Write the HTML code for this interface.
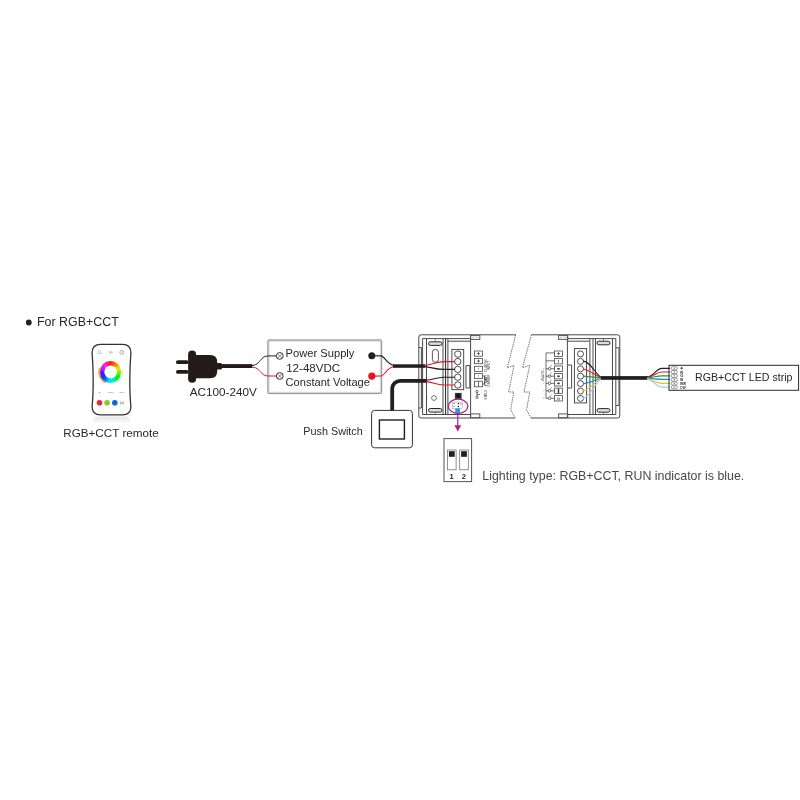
<!DOCTYPE html>
<html><head><meta charset="utf-8">
<style>
html,body{margin:0;padding:0;background:#fff;width:800px;height:800px;overflow:hidden}
svg{display:block}
text{font-family:"Liberation Sans",sans-serif;fill:#2a2626}
</style></head><body>
<svg width="800" height="800" viewBox="0 0 800 800" style="will-change:transform">
<rect width="800" height="800" fill="#fff"/>
<defs>
<linearGradient id="refl" x1="0" y1="0" x2="0" y2="1">
<stop offset="0" stop-color="#e2e2e2"/><stop offset="1" stop-color="#fff"/>
</linearGradient>
</defs>

<!-- ===== Header ===== -->
<circle cx="28.8" cy="322.5" r="2.9" fill="#231f20"/>
<text x="37" y="325.8" font-size="12" textLength="81.8" lengthAdjust="spacingAndGlyphs">For RGB+CCT</text>

<!-- ===== Remote ===== -->
<g id="remote">
<path d="M99,416.5 L124,416.5 Q130,416.5 130.5,421 L130.5,424 L92.5,424 L92.5,421 Q93,416.5 99,416.5 Z" fill="url(#refl)" opacity="0.9"/>
<path d="M100.5,344.3 L122.5,344.3 Q130.9,344.3 130.9,353 Q129.8,366 129.8,380 Q129.8,396 130.9,406.5 Q130.9,414.9 122.5,414.9 L100.5,414.9 Q92.1,414.9 92.1,406.5 Q93.2,396 93.2,380 Q93.2,366 92.1,353 Q92.1,344.3 100.5,344.3 Z" fill="#fff" stroke="#333" stroke-width="1.3"/>
<path d="M98,353.5 L98,351.5 L99.5,350.3 L101,351.5 L101,353.5 Z" fill="none" stroke="#aaa" stroke-width="0.6"/>
<path d="M109,350.8 L112.5,352.4 L109,354 M109,352.4 L111.5,352.4" fill="none" stroke="#aaa" stroke-width="0.6"/>
<circle cx="121.8" cy="352.4" r="2" fill="none" stroke="#999" stroke-width="0.7"/>
<circle cx="121.8" cy="352.4" r="0.9" fill="none" stroke="#bbb" stroke-width="0.5"/>
<path d="M99.80,367.93 A11.6,11.6 0 0 0 105.80,382.41" fill="none" stroke="#f6a04c" stroke-width="1.9"/>
<path d="M122.10,368.85 A11.8,11.8 0 0 1 115.69,382.59" fill="none" stroke="#d2e8fb" stroke-width="1.4"/>
<foreignObject x="99.9" y="361.1" width="21.6" height="21.6">
<div style="width:21.6px;height:21.6px;border-radius:50%;background:conic-gradient(#ff1e00 0deg,#ff8000 35deg,#f8e800 65deg,#80f000 95deg,#00f000 125deg,#00f0c0 160deg,#00e8ff 185deg,#0050ff 225deg,#4010f0 255deg,#a020f8 285deg,#ff20e0 320deg,#ff1e00 360deg)"></div>
</foreignObject>
<circle cx="110.7" cy="371.9" r="6.4" fill="#fff"/>
<circle cx="99.5" cy="392.5" r="0.8" fill="#aaa"/>
<rect x="108" y="392" width="5.5" height="1" fill="#ccc"/>
<rect x="119.5" y="392" width="5" height="1" fill="#ccc"/>
<circle cx="99.5" cy="402.7" r="2.8" fill="#ee2233"/>
<circle cx="107.1" cy="402.7" r="2.8" fill="#80d024"/>
<circle cx="114.8" cy="402.7" r="2.8" fill="#1166d6"/>
<path d="M120.8,401.2 L120.8,404.5 M123.2,401.2 L123.2,404.5 M120.8,403.3 L123.2,403.3" stroke="#777" stroke-width="0.6"/>
</g>
<text x="63.2" y="437.2" font-size="11.6" textLength="95.6" lengthAdjust="spacingAndGlyphs">RGB+CCT remote</text>

<!-- ===== Plug ===== -->
<g fill="#231b1b">
<rect x="176" y="360.3" width="12.5" height="3.8" rx="1.9"/>
<rect x="176" y="370" width="12.5" height="3.8" rx="1.9"/>
<rect x="188.1" y="350.5" width="8" height="32.3" rx="4"/>
<path d="M195,355 L210,355 Q217.2,355 217.2,362 L217.2,371.3 Q217.2,378.3 210,378.3 L195,378.3 Z"/>
<rect x="216" y="362.9" width="6" height="6.7" rx="1.5"/>
<rect x="221" y="364.1" width="31.2" height="3.9"/>
</g>
<text x="189.8" y="395.6" font-size="11" textLength="67" lengthAdjust="spacingAndGlyphs">AC100-240V</text>
<path d="M252,365.5 C258,365 259,361 262.5,358.3" fill="none" stroke="#231f20" stroke-width="1"/>
<path d="M252,367 C258,367.5 259,371 262.5,373.7" fill="none" stroke="#e8141c" stroke-width="1"/>

<!-- ===== Power supply ===== -->
<rect x="268.6" y="340.7" width="112.3" height="52.1" fill="#fff" stroke="#d6d6d6" stroke-width="2"/>
<rect x="267.8" y="339.9" width="113.9" height="53.7" rx="1.2" fill="none" stroke="#8a8a8a" stroke-width="0.9"/>
<path d="M262,358.5 C264,356.5 266,355.9 270,355.9 L276.5,355.9" fill="none" stroke="#231f20" stroke-width="1"/>
<path d="M262,373.5 C264,375.5 266,376 270,376 L276.5,376" fill="none" stroke="#e8141c" stroke-width="1"/>
<g fill="#fff" stroke="#231f20" stroke-width="0.9">
<circle cx="279.75" cy="355.9" r="3.4"/>
<circle cx="279.75" cy="376" r="3.4"/>
</g>
<path d="M277.6,353.75 L281.9,358.05 M281.9,353.75 L277.6,358.05 M277.6,373.85 L281.9,378.15 M281.9,373.85 L277.6,378.15" stroke="#555" stroke-width="0.7"/>
<text x="285.6" y="357" font-size="11" textLength="68.8" lengthAdjust="spacingAndGlyphs">Power Supply</text>
<text x="286.2" y="371.5" font-size="11" textLength="54" lengthAdjust="spacingAndGlyphs">12-48VDC</text>
<text x="285.6" y="385.5" font-size="11" textLength="84.3" lengthAdjust="spacingAndGlyphs">Constant Voltage</text>
<circle cx="371.8" cy="355.7" r="3.5" fill="#231f20"/>
<circle cx="371.8" cy="376.1" r="3.6" fill="#e8141c"/>
<path d="M372,355.7 L381,355.9 C385,356.5 387,364.5 393.5,365.2" fill="none" stroke="#231f20" stroke-width="1.1"/>
<path d="M372,376.1 L381,376 C385,375.5 387,367.5 393.5,366.8" fill="none" stroke="#e8141c" stroke-width="1.1"/>

<!-- ===== Push switch ===== -->
<rect x="371.6" y="410.4" width="40.8" height="37.4" rx="3" fill="#fff" stroke="#333" stroke-width="1"/>
<rect x="379.4" y="420" width="25" height="19" fill="#fff" stroke="#231f20" stroke-width="1.4"/>
<text x="303.3" y="434.8" font-size="11" textLength="59.5" lengthAdjust="spacingAndGlyphs">Push Switch</text>


<!-- ===== Controller left module ===== -->
<g fill="none" stroke="#4a4a4a" stroke-width="1">
<!-- outer frame -->
<path d="M515.7,334.8 L421,334.8 Q418.8,334.8 418.8,337 L418.8,416 Q418.8,418 421,418 L515,418"/>
<!-- inner frame -->
<path d="M470.6,338.6 L422.6,338.6 L422.6,414.5 L470.6,414.5"/>
<!-- left side tab -->
<path d="M418.8,347.5 L421.4,347.5 L421.4,408 L418.8,408"/>
<!-- right border -->
<path d="M470.6,334.8 L470.6,418"/>
<!-- mounting panel -->
<path d="M426.5,339 L426.5,414.5 M443,339 L443,414.5 M447.9,338.6 L447.9,414.5"/><path d="M445.6,338.6 L445.6,414.5" stroke="#222"/>
<path d="M447.8,341.2 L470.6,341.2"/>
<!-- top right tabs -->
<rect x="470.6" y="335.4" width="9.2" height="4" stroke="#555"/><path d="M472,337.6 L474.5,336.8 M475.5,336.8 L478,337.6" stroke="#888" stroke-width="0.6"/>
<rect x="470.6" y="413.9" width="9.2" height="3.8" stroke="#555"/>
<!-- right side tab -->
<path d="M466,365.5 L469.8,365.5 L469.8,388 L466,388 Z"/>
</g>
<!-- clips -->
<g fill="#ddd" stroke="#2a2a2a" stroke-width="1">
<rect x="428.5" y="341.8" width="13.5" height="3.6" rx="1.8"/>
<rect x="428.5" y="408.5" width="13.5" height="3.6" rx="1.8"/>
</g>
<path d="M435.2,339 L435.2,341.8 M435.2,412.1 L435.2,414.5" stroke="#555" stroke-width="0.7"/>
<!-- slot & hole -->
<rect x="432.4" y="349.3" width="6" height="13" rx="3" fill="none" stroke="#444" stroke-width="0.9"/>
<circle cx="434" cy="398" r="2.4" fill="none" stroke="#555" stroke-width="0.8"/>
<!-- terminal block -->
<rect x="451.9" y="349.4" width="11.8" height="40.3" fill="#fff" stroke="#3a3a3a" stroke-width="0.9"/>
<g fill="#fff" stroke="#3a3a3a" stroke-width="0.9">
<circle cx="457.8" cy="354.1" r="3.2"/>
<circle cx="457.8" cy="361.6" r="3.2"/>
<circle cx="457.8" cy="369.4" r="3.2"/>
<circle cx="457.8" cy="377.2" r="3.2"/>
<circle cx="457.8" cy="385" r="3.2"/>
</g>
<!-- cables to controller -->
<rect x="393" y="364.3" width="32" height="3.5" fill="#231f20"/>
<path d="M392.2,410.5 L392.2,388.8 A8,8 0 0 1 400.2,380.8 L426.8,380.8" fill="none" stroke="#231f20" stroke-width="3.8"/>

<!-- wires into terminal -->
<g fill="none" stroke-width="1.1">
<path d="M424.5,365.4 C432,365 436,361.6 444,361.6 L455,361.6" stroke="#e8141c"/>
<path d="M424.5,366.6 C431,367 435,369.4 443,369.4 L455,369.4" stroke="#231f20"/>
<path d="M426,380.2 C433,380 436,377.2 444,377.2 L455,377.2" stroke="#231f20"/>
<path d="M426,381.6 C433,382 436,385 444,385 L455,385" stroke="#e8141c"/>
</g>
<!-- button -->
<rect x="454.9" y="392.9" width="6.7" height="6" fill="#3a3434"/>
<circle cx="458.25" cy="395.9" r="2.1" fill="#1a1414"/>
<!-- dip tiny -->
<rect x="452.3" y="402.1" width="10.3" height="6.2" fill="#fff" stroke="#aaa" stroke-width="0.6"/>
<g fill="#222">
<circle cx="458.4" cy="403.5" r="0.75"/><circle cx="458.4" cy="406.4" r="0.75"/>
</g>
<g stroke="#555" stroke-width="0.6">
<path d="M453.3,403.4 L455,403.4 M453.3,406.4 L455,406.4 M461,403 L461,405"/>
</g>
<rect x="455.25" y="408.4" width="4.7" height="4.4" fill="#12a0ee"/>
<ellipse cx="458.05" cy="406.2" rx="9.8" ry="7.1" fill="none" stroke="#ac1f8e" stroke-width="1.3"/>
<!-- arrow -->
<path d="M457.8,413.4 L457.8,427" stroke="#ac1f8e" stroke-width="1.2"/>
<path d="M454.4,425.2 L461.2,425.2 L457.8,431.6 Z" fill="#ac1f8e"/>

<!-- right labels of left module -->
<g fill="#fff" stroke="#4a4a4a" stroke-width="0.8">
<rect x="474.5" y="351" width="8" height="5.2"/>
<rect x="474.5" y="358.5" width="8" height="5.2"/>
<rect x="474.5" y="366.3" width="8" height="5.2"/>
<rect x="474.5" y="373.4" width="8" height="5.2"/>
<rect x="474.5" y="381.2" width="8" height="5.6"/>
</g>
<g stroke="#333" stroke-width="0.7" fill="none">
<path d="M477,353.6 L480,353.6 M478.5,352.1 L478.5,355.1"/>
<path d="M477,361.1 L480,361.1 M478.5,359.6 L478.5,362.6"/>
<path d="M478,368.9 L479,368.9"/>
<path d="M478,376 L479,376"/>
<path d="M478.5,381.2 L478.5,386.8"/>
<path d="M482.5,376 L484.5,376 L484.5,379.5 L487,379.5 M482.5,384 L484.5,384 L484.5,381 L487,381"/>
<circle cx="477" cy="391.6" r="1.2"/><circle cx="477" cy="397.3" r="1.2"/>
<path d="M477,392.8 L477,396.1 M477,394.5 L480,394.5"/>
</g>
<g font-size="3.2" fill="#666">
<text transform="translate(486.9,372) rotate(-90)" textLength="13" lengthAdjust="spacingAndGlyphs">12-48VDC</text>
<text transform="translate(489.8,370) rotate(-90)" textLength="9" lengthAdjust="spacingAndGlyphs">INPUT</text>
<text transform="translate(486.9,386) rotate(-90)" textLength="11" lengthAdjust="spacingAndGlyphs">PUSH</text>
<text transform="translate(489.8,386.5) rotate(-90)" textLength="12" lengthAdjust="spacingAndGlyphs">DIMMER</text>
<text transform="translate(487.2,399.5) rotate(-90)" textLength="9.5" lengthAdjust="spacingAndGlyphs">STATUS</text>
</g>

<!-- broken edges -->
<g fill="none" stroke="#555" stroke-width="0.85" stroke-dasharray="1.4,0.9">
<path d="M515.7,334.8 L507.3,367.7 L514,365.5 L508.7,392 L513.8,392 L510.7,409.6 L515,417.8"/>
<path d="M531.5,334.8 L522.5,367.7 L529.8,365.3 L524,392 L529.8,392 L526.5,410 L531,417.8"/>
</g>

<!-- ===== Controller right module ===== -->
<g fill="none" stroke="#4a4a4a" stroke-width="1">
<path d="M531.5,334.8 L617.5,334.8 Q619.8,334.8 619.8,337 L619.8,416 Q619.8,418 617.5,418 L531,418"/>
<path d="M567.4,338.6 L615.8,338.6 L615.8,414.5 L567.4,414.5"/>
<path d="M567.4,334.8 L567.4,418"/>
<rect x="558.6" y="335.4" width="9.2" height="4" stroke="#555"/><path d="M560,337.6 L562.5,336.8 M563.5,336.8 L566,337.6" stroke="#888" stroke-width="0.6"/>
<rect x="558.6" y="413.9" width="9.2" height="3.8" stroke="#555"/>
<path d="M568,365 L571.6,365 L571.6,388 L568,388"/>
<path d="M567.4,341.2 L589.5,341.2"/>
<path d="M589.9,338.6 L589.9,414.5 M593,338.6 L593,414.5 M595.5,339 L595.5,414.5 M612.5,339 L612.5,414.5"/>
<path d="M615.8,347.8 L619,347.8 L619,405.5 L615.8,405.5"/>
</g>
<g fill="#ddd" stroke="#2a2a2a" stroke-width="1">
<rect x="597" y="341.2" width="13" height="3.6" rx="1.8"/>
<rect x="597" y="408.6" width="13" height="3.6" rx="1.8"/>
</g>
<path d="M603.5,338.6 L603.5,341.2 M603.5,412.2 L603.5,414.5" stroke="#555" stroke-width="0.7"/>
<rect x="574.4" y="348.6" width="12.2" height="54.3" fill="#fff" stroke="#3a3a3a" stroke-width="0.9"/>
<g fill="#fff" stroke="#3a3a3a" stroke-width="0.9">
<circle cx="580.5" cy="353.9" r="3"/>
<circle cx="580.5" cy="361.4" r="3"/>
<circle cx="580.5" cy="368.8" r="3"/>
<circle cx="580.5" cy="376.2" r="3"/>
<circle cx="580.5" cy="383.6" r="3"/>
<circle cx="580.5" cy="391" r="3"/>
<circle cx="580.5" cy="398.4" r="3"/>
</g>
<!-- output wires -->
<g fill="none" stroke-width="1.1">
<path d="M583,361.1 C591,361.5 594,373 601.5,377.6" stroke="#231f20"/>
<path d="M583,369 C590,370 595,375.5 601.5,377.8" stroke="#e8141c"/>
<path d="M583,376.1 L601.5,377.9" stroke="#1e9a3a"/>
<path d="M583,383.6 C590,383 595,379.5 601.5,378.1" stroke="#1a8ee0"/>
<path d="M583,390.75 C590,390 595,381 601.5,378.2" stroke="#f0c020"/>
<path d="M583,398.6 C590,397 595,383 601.5,378.3" stroke="#8fd0f5"/>
</g>
<rect x="600.8" y="376.1" width="47" height="3.7" fill="#231f20"/>
<!-- output labels -->
<g fill="#fff" stroke="#4a4a4a" stroke-width="0.8">
<rect x="554.5" y="351" width="8" height="5.4"/>
<rect x="554.5" y="358.5" width="8" height="5.4"/>
<rect x="554.5" y="366" width="8" height="5.4"/>
<rect x="554.5" y="373.5" width="8" height="5.4"/>
<rect x="554.5" y="380.6" width="8" height="5.4"/>
<rect x="554.5" y="388.1" width="8" height="5.4"/>
<rect x="554.5" y="395.6" width="8" height="5.4"/>
</g>
<g stroke="#333" stroke-width="0.7" fill="none">
<path d="M557,353.7 L560,353.7 M558.5,352.2 L558.5,355.2"/>
<path d="M558.5,359.8 L558.5,362.6"/>
<path d="M554.5,352.9 L546,352.9 L546,398.6 M546,360.8 L554.5,360.8"/>
<path d="M546,368.7 L554.5,368.7 M546,376.2 L554.5,376.2 M546,383.3 L554.5,383.3 M546,390.8 L554.5,390.8 M546,398.3 L554.5,398.3"/>
<circle cx="549.5" cy="368.7" r="1.3" fill="#fff"/><circle cx="549.5" cy="376.2" r="1.3" fill="#fff"/><circle cx="549.5" cy="383.3" r="1.3" fill="#fff"/><circle cx="549.5" cy="390.8" r="1.3" fill="#fff"/><circle cx="549.5" cy="398.3" r="1.3" fill="#fff"/>
<path d="M550.3,366.5 L551.5,365.5 M550.3,374 L551.5,373 M550.3,381.1 L551.5,380.1 M550.3,388.6 L551.5,387.6 M550.3,396.1 L551.5,395.1"/>
</g>
<g fill="#333">
<rect x="557.3" y="368" width="2.4" height="1.6"/>
<rect x="557.3" y="375.5" width="2.4" height="1.6"/>
<rect x="557.3" y="382.6" width="2.4" height="1.6"/>
<rect x="557.8" y="388.6" width="1.4" height="4.4"/>
<circle cx="558.5" cy="398.8" r="1.1" fill="none" stroke="#333" stroke-width="0.6"/>
</g>
<g fill="#aaa">
<rect x="543.3" y="368.2" width="1" height="1"/><rect x="543.3" y="375.7" width="1" height="1"/><rect x="543.3" y="382.8" width="1" height="1"/><rect x="543.3" y="390.3" width="1" height="1"/><rect x="543" y="397.8" width="1.4" height="1"/>
</g>
<text transform="translate(541.2,370.5) rotate(90)" font-size="3.2" fill="#888" textLength="11" lengthAdjust="spacingAndGlyphs">OUTPUT</text>

<!-- ===== LED strip ===== -->
<g fill="none" stroke-width="1.2">
<path d="M647,377.2 C654,376.5 656,368.3 662,368.3 L670,368.3" stroke="#231f20"/>
<path d="M647,377.5 C654,377 656,372 662,372 L670,372" stroke="#e8141c"/>
<path d="M647,377.9 C654,377.5 656,375.8 662,375.8 L670,375.8" stroke="#1e9a3a"/>
<path d="M647,378.2 C654,378.4 656,379.3 662,379.3 L670,379.3" stroke="#1a8ee0"/>
<path d="M647,378.5 C654,379.4 656,383.4 662,383.4 L670,383.4" stroke="#f0c020"/>
<path d="M647,378.8 C654,380 656,387.2 662,387.2 L670,387.2" stroke="#8fd0f5"/>
</g>
<rect x="669" y="365.3" width="129.6" height="25" fill="none" stroke="#2a2a2a" stroke-width="1"/>
<g fill="#fff" stroke="#555" stroke-width="0.6">
<rect x="671.2" y="366.7" width="6.2" height="3.1" rx="1.55"/>
<rect x="671.2" y="370.5" width="6.2" height="3.1" rx="1.55"/>
<rect x="671.2" y="374.3" width="6.2" height="3.1" rx="1.55"/>
<rect x="671.2" y="378.1" width="6.2" height="3.1" rx="1.55"/>
<rect x="671.2" y="381.9" width="6.2" height="3.1" rx="1.55"/>
<rect x="671.2" y="385.7" width="6.2" height="3.1" rx="1.55"/>
</g>
<g fill="#444">
<rect x="673.8" y="367.8" width="1" height="0.9"/><rect x="673.8" y="371.6" width="1" height="0.9"/><rect x="673.8" y="375.4" width="1" height="0.9"/><rect x="673.8" y="379.2" width="1" height="0.9"/><rect x="673.8" y="383" width="1" height="0.9"/><rect x="673.8" y="386.8" width="1" height="0.9"/>
</g>
<path d="M680.2,368.2 L683,368.2 M681.6,366.8 L681.6,369.6" stroke="#333" stroke-width="0.8"/>
<g font-size="4" font-weight="bold" fill="#333">
<text x="680.2" y="373.6">R</text>
<text x="680.2" y="377.3">G</text>
<text x="680.2" y="381">B</text>
<text x="680" y="385" textLength="6" lengthAdjust="spacingAndGlyphs">WW</text>
<text x="680" y="388.8" textLength="5.6" lengthAdjust="spacingAndGlyphs">CW</text>
</g>
<text x="695" y="381.4" font-size="11.4" textLength="97.5" lengthAdjust="spacingAndGlyphs">RGB+CCT LED strip</text>

<!-- ===== DIP switch ===== -->
<rect x="444" y="438.6" width="27.6" height="43" fill="#fff" stroke="#555" stroke-width="1"/>
<rect x="447.5" y="450" width="8.6" height="19.8" fill="#fff" stroke="#777" stroke-width="0.8"/>
<rect x="459.7" y="450" width="8.6" height="19.8" fill="#fff" stroke="#777" stroke-width="0.8"/>
<rect x="448.9" y="451.2" width="5.8" height="5.6" fill="#231f20"/>
<rect x="461.1" y="451.2" width="5.8" height="5.6" fill="#231f20"/>
<text x="451.6" y="479" font-size="7.5" font-weight="bold" text-anchor="middle" fill="#333">1</text>
<text x="463.8" y="479" font-size="7.5" font-weight="bold" text-anchor="middle" fill="#333">2</text>
<text x="482.3" y="479.8" font-size="12.8" textLength="262" lengthAdjust="spacingAndGlyphs" style="fill:#484848">Lighting type: RGB+CCT, RUN indicator is blue.</text>

</svg>
</body></html>
